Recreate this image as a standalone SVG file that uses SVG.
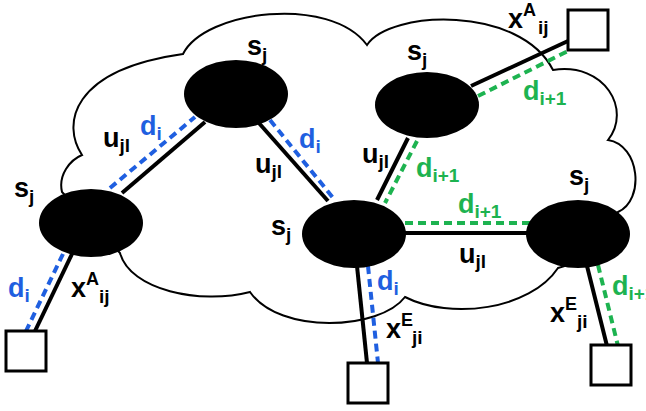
<svg xmlns="http://www.w3.org/2000/svg" width="646" height="411" viewBox="0 0 646 411">
<style>
.cloud{fill:#fff;stroke:#000;stroke-width:2}
.node{fill:#000}
.term{fill:#fff;stroke:#000;stroke-width:3}
.e{stroke:#000;stroke-width:4;fill:none}
.b{stroke:#1f5fe0;stroke-width:4;stroke-dasharray:8 5;fill:none}
.g{stroke:#1db350;stroke-width:4;stroke-dasharray:8 5;fill:none}
text{font-family:"Liberation Sans",Arial,sans-serif;font-weight:bold;font-size:27px}
.sub{font-size:19px}
.sup{font-size:18px}
.bl{fill:#1f5fe0}
.gr{fill:#1db350}
</style>
<rect width="646" height="411" fill="#fff"/>
<g id="cloud">
<path class="cloud" d="M 82,155 C 62,125 70,70 183,54 C 205,10 330,-5 367,45 C 390,10 520,5 553,70 C 605,62 632,110 608,140 C 640,145 645,200 618,212 C 610,240 590,260 558,268 C 530,310 450,320 405,297 C 380,330 280,335 250,292 C 200,305 130,290 120,253 L 62,192 C 58,175 70,160 82,155 Z"/>
</g>
<g id="connectors">
<line class="e" x1="122" y1="193" x2="205" y2="122"/>
<line class="b" x1="110" y1="188" x2="195" y2="117"/>
<line class="e" x1="258" y1="122" x2="328" y2="201"/>
<line class="b" x1="270" y1="120" x2="334" y2="199"/>
<line class="e" x1="408" y1="138" x2="377" y2="200"/>
<line class="g" x1="417" y1="141" x2="385" y2="203"/>
<line class="e" x1="404" y1="233" x2="528" y2="233"/>
<line class="g" x1="405" y1="223" x2="530" y2="223"/>
<line class="e" x1="471" y1="86" x2="568" y2="41"/>
<line class="g" x1="478" y1="96" x2="568" y2="51"/>
<line class="e" x1="72" y1="254" x2="35" y2="331"/>
<line class="b" x1="63" y1="254" x2="26" y2="331"/>
<line class="e" x1="357" y1="266" x2="367" y2="363"/>
<line class="b" x1="368" y1="266" x2="378" y2="363"/>
<line class="e" x1="587" y1="266" x2="607" y2="346"/>
<line class="g" x1="598" y1="265" x2="618" y2="346"/>
</g>
<g id="nodeA"><ellipse class="node" cx="236" cy="94" rx="52" ry="34"/><text x="247" y="55">s<tspan class="sub" dy="6">j</tspan></text></g>
<g id="nodeB"><ellipse class="node" cx="91" cy="223" rx="52" ry="34"/><text x="14" y="197">s<tspan class="sub" dy="6">j</tspan></text></g>
<g id="nodeC"><ellipse class="node" cx="354" cy="234" rx="52" ry="34"/><text x="271" y="235">s<tspan class="sub" dy="6">j</tspan></text></g>
<g id="nodeD"><ellipse class="node" cx="427" cy="105" rx="52" ry="33"/><text x="407" y="60">s<tspan class="sub" dy="6">j</tspan></text></g>
<g id="nodeE"><ellipse class="node" cx="578" cy="234" rx="52" ry="34"/><text x="569" y="185">s<tspan class="sub" dy="6">j</tspan></text></g>
<g id="termTR"><rect class="term" x="568" y="10" width="40" height="40"/></g>
<g id="termBL"><rect class="term" x="6" y="331" width="40" height="40"/></g>
<g id="termBM"><rect class="term" x="348" y="363" width="40" height="40"/></g>
<g id="termBR"><rect class="term" x="591" y="345" width="40" height="40"/></g>
<g id="labels">
<text x="103" y="147">u<tspan class="sub" dy="5">jl</tspan></text>
<text x="255" y="173">u<tspan class="sub" dy="5">jl</tspan></text>
<text x="362" y="163">u<tspan class="sub" dy="5">jl</tspan></text>
<text x="459" y="263">u<tspan class="sub" dy="5">jl</tspan></text>
<text class="bl" x="140" y="135">d<tspan class="sub" dy="5">i</tspan></text>
<text class="bl" x="299" y="148">d<tspan class="sub" dy="5">i</tspan></text>
<text class="bl" x="8" y="297">d<tspan class="sub" dy="5">i</tspan></text>
<text class="bl" x="377" y="290">d<tspan class="sub" dy="5">i</tspan></text>
<text class="gr" x="523" y="100">d<tspan class="sub" dy="5">i+1</tspan></text>
<text class="gr" x="416" y="177">d<tspan class="sub" dy="5">i+1</tspan></text>
<text class="gr" x="458" y="213">d<tspan class="sub" dy="5">i+1</tspan></text>
<text class="gr" x="612" y="295">d<tspan class="sub" dy="5">i+1</tspan></text>
<text x="508" y="28">x<tspan class="sup" dy="-12">A</tspan><tspan class="sub" x="538" dy="18">ij</tspan></text>
<text x="71" y="297">x<tspan class="sup" dy="-12">A</tspan><tspan class="sub" x="99" dy="18">ij</tspan></text>
<text x="386" y="338">x<tspan class="sup" dy="-12">E</tspan><tspan class="sub" x="412" dy="18">ji</tspan></text>
<text x="550" y="322">x<tspan class="sup" dy="-12">E</tspan><tspan class="sub" x="577" dy="18">ji</tspan></text>
</g>
</svg>
